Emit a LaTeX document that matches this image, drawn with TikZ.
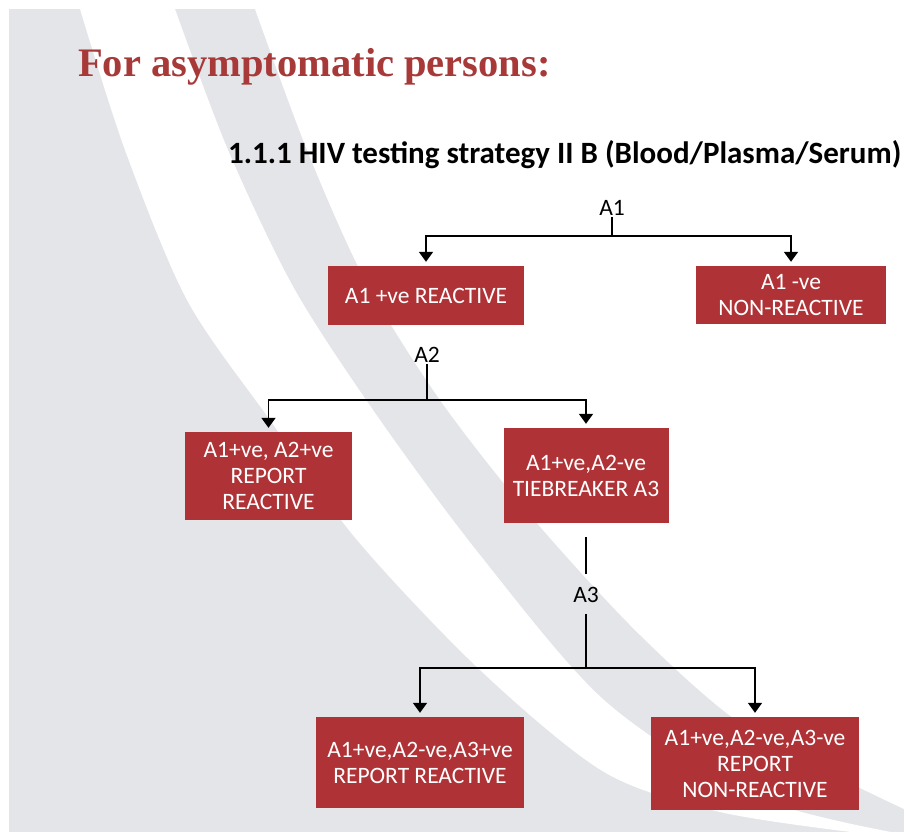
\documentclass[tikz,border=0pt]{standalone}
\usepackage{fontspec}
\newfontfamily\calibri{Carlito}
\newfontfamily\cambria{Liberation Serif}
\usetikzlibrary{arrows.meta}
\usetikzlibrary{positioning}
\definecolor{boxred}{HTML}{AF3336}
\definecolor{titlered}{HTML}{A83939}
\definecolor{pagegray}{HTML}{E4E5E9}
\tikzset {
  % plain connector
  link/.style = {
    draw = black,
    line width = 1.8pt
  },
  % connector ending in an arrow head
  arr/.style = {
    link,
    -{Triangle[width=14pt,length=10pt]},
    shorten > = 4pt
  }
}
\tikzset {
  % result box
  result/.style = {
    fill = boxred,
    text = white,
    align = center,
    inner sep = 0pt,
    font = \calibri\fontsize{23.5}{26}\selectfont
  },
  % assay name
  assay/.style = {
    inner sep = 1pt,
    font = \calibri\fontsize{23.5}{26}\selectfont
  },
  heading/.style = {
    anchor = base west,
    inner sep = 0pt,
    text = titlered,
    font = \cambria\bfseries\fontsize{40.5}{44}\selectfont
  },
  subheading/.style = {
    anchor = base west,
    inner sep = 0pt,
    font = \calibri\bfseries\fontsize{31}{36}\selectfont
  },
  node distance = 10pt
}
\begin{document}
\begin{tikzpicture}[x=1pt, y=-1pt]
    % page background with the two white swooshes
    \fill[white] (0,0) rectangle (904,832);
    \fill[pagegray] (9,9) rectangle (904,832);
    \fill[white] plot[smooth] coordinates {(80,9) (125,150) (187,300) (270,420)
      (357,540) (480,670) (604,772) (720,812) (851,832)}
    -- plot[smooth] coordinates {(891,832) (750,795) (604,700) (480,555)
      (380,420) (295,290) (228,150) (175,9)} -- cycle;
    \fill[white] plot[smooth] coordinates {(255,9) (307,150) (365,280) (440,400)
      (530,515) (640,635) (750,730) (904,809)} -- (904,0) -- (255,0) -- cycle;

    \node[heading] (title) at (78,77) {For asymptomatic persons:};
    \node[subheading] (strategy) at (228,163) {1.1.1 HIV testing strategy II B (Blood/Plasma/Serum)};

    \node[assay] (a1) at (612,208) {A1};
    \coordinate [below=19pt of a1] (a1-split);
    \node[result, minimum width=196pt, minimum height=59pt] (a1-pos) at (426,295.5) {A1 +ve REACTIVE};
    \node[result, minimum width=190pt, minimum height=58pt] (a1-neg) at (791,295) {A1 -ve\\NON-REACTIVE};

    \node[assay] (a2) at (427,355) {A2};
    \coordinate [below=36pt of a2] (a2-split);
    \node[result, minimum width=167pt, minimum height=88pt] (a2-pos) at (268.5,476) {A1+ve, A2+ve\\REPORT\\REACTIVE};
    \node[result, minimum width=165pt, minimum height=95pt] (tiebreak) at (586,475.5) {A1+ve,A2-ve\\TIEBREAKER A3};

    \coordinate [below=14pt of tiebreak] (tb-below);
    \node[assay] (a3) at (586,595) {A3};
    \coordinate [above=12pt of a3] (a3-above);
    \coordinate [below=10pt of a3] (a3-below);
    \coordinate [below=64pt of a3] (a3-split);
    \node[result, minimum width=208pt, minimum height=91pt] (a3-pos) at (420,762.5) {A1+ve,A2-ve,A3+ve\\REPORT REACTIVE};
    \node[result, minimum width=208pt, minimum height=93pt] (a3-neg) at (755,763.5) {A1+ve,A2-ve,A3-ve\\REPORT\\NON-REACTIVE};

    \draw[link] (a1) -- (a1-split);
    \draw[arr] (a1-split) -| (a1-pos);
    \draw[arr] (a1-split) -| (a1-neg);

    \draw[link] (a2) -- (a2-split);
    \draw[arr] (a2-split) -| (a2-pos);
    \draw[arr] (a2-split) -| (tiebreak);

    \draw[link] (tb-below) -- (a3-above);
    \draw[link] (a3-below) -- (a3-split);
    \draw[arr] (a3-split) -| (a3-pos);
    \draw[arr] (a3-split) -| (a3-neg);
\end{tikzpicture}
\end{document}
